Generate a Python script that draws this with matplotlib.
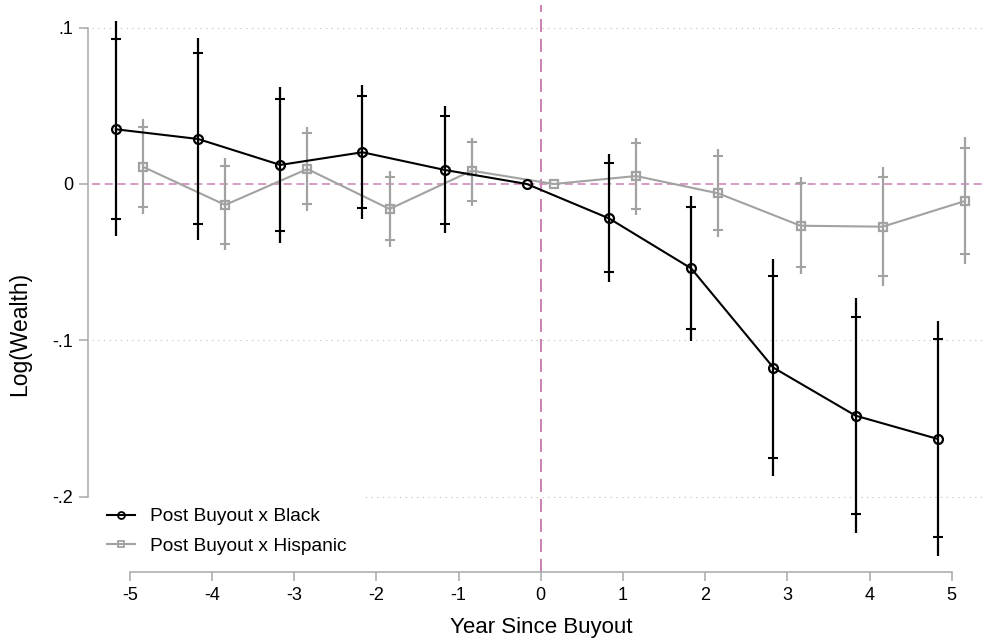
import numpy as np
import matplotlib
matplotlib.use("Agg")
import matplotlib.pyplot as plt
from matplotlib.lines import Line2D

plt.rcParams['font.family'] = ['Liberation Sans', 'DejaVu Sans']
plt.rcParams['lines.scale_dashes'] = False

# ---------------- data ----------------
years = [-5, -4, -3, -2, -1, 0, 1, 2, 3, 4, 5]
nan = np.nan

black_coef = [0.035, 0.0288, 0.0122, 0.0203, 0.009, 0.0, -0.022, -0.054, -0.1175, -0.1482, -0.1631]
black_lo95 = [-0.033, -0.0358, -0.038, -0.0224, -0.0316, nan, -0.0625, -0.1003, -0.1866, -0.2235, -0.238]
black_hi95 = [0.104, 0.0936, 0.0623, 0.0633, 0.050, nan, 0.0192, -0.0075, -0.0482, -0.0732, -0.0875]
black_lo90 = [-0.0225, -0.0256, -0.030, -0.0156, -0.0256, nan, -0.0565, -0.093, -0.1755, -0.2113, -0.226]
black_hi90 = [0.093, 0.0836, 0.0544, 0.0565, 0.0437, nan, 0.0132, -0.0145, -0.0589, -0.0849, -0.0994]

hisp_coef = [0.011, -0.0134, 0.0096, -0.016, 0.0085, 0.0, 0.0051, -0.006, -0.0267, -0.0273, -0.0109]
hisp_lo95 = [-0.0193, -0.042, -0.0173, -0.040, -0.0139, nan, -0.0198, -0.0337, -0.0576, -0.065, -0.0514]
hisp_hi95 = [0.0416, 0.0164, 0.0367, 0.0083, 0.0296, nan, 0.0296, 0.0222, 0.0047, 0.0107, 0.0299]
hisp_lo90 = [-0.0145, -0.0386, -0.0128, -0.036, -0.0107, nan, -0.016, -0.0294, -0.0529, -0.0589, -0.045]
hisp_hi90 = [0.0367, 0.0117, 0.0328, 0.0045, 0.027, nan, 0.0264, 0.0181, 0.0008, 0.0047, 0.0232]

ytick_vals = [0.1, 0.0, -0.1, -0.2]
ytick_labels = ['.1', '0', '-.1', '-.2']
xtick_vals = [-5, -4, -3, -2, -1, 0, 1, 2, 3, 4, 5]
xtick_labels = ['-5', '-4', '-3', '-2', '-1', '0', '1', '2', '3', '4', '5']
series_labels = ['Post Buyout x Black', 'Post Buyout x Hispanic']
xlabel = 'Year Since Buyout'
ylabel = 'Log(Wealth)'

# ---------------- style ----------------
BLACK = '#000000'
GRAY = '#a2a2a2'
PINK = '#cc80b4'
AXGRAY = '#a8a8a8'
GRID = '#c4c4c4'
off_black, off_hisp = -0.17, 0.16

W, H = 984, 644
fig = plt.figure(figsize=(W / 100, H / 100), dpi=100)
L, R, T, B = 92, 983, 5, 572
ax = fig.add_axes([L / W, 1 - B / H, (R - L) / W, (B - T) / H])

ax.set_xlim(-5.46, 5.38)
ax.set_ylim(-0.2482, 0.1145)

# grid lines (dotted)
for v in ytick_vals:
    if v != 0:
        ax.axhline(v, color=GRID, lw=0.8, linestyle=(0, (0.9, 3.2)), zorder=0)

# reference lines
ax.axhline(0, color=PINK, lw=1.1, linestyle=(0, (5.8, 3.4)), zorder=1)
ax.axvline(0, color=PINK, lw=1.4, linestyle=(0, (9.4, 5.0)), zorder=1)

def draw(coef, lo95, hi95, lo90, hi90, off, color, marker, z):
    x = np.array(years, dtype=float) + off
    lo95 = np.array(lo95); hi95 = np.array(hi95)
    m = ~np.isnan(lo95)
    ax.vlines(x[m], lo95[m], hi95[m], color=color, lw=1.6, zorder=z)
    ax.plot(x[m], np.array(lo90)[m], linestyle='none', marker='_', ms=7, mew=1.5, color=color, zorder=z)
    ax.plot(x[m], np.array(hi90)[m], linestyle='none', marker='_', ms=7, mew=1.5, color=color, zorder=z)
    ax.plot(x, coef, color=color, lw=1.5, marker=marker, ms=6.4, mew=1.6,
            mfc='none', mec=color, zorder=z + 0.5)

draw(hisp_coef, hisp_lo95, hisp_hi95, hisp_lo90, hisp_hi90, off_hisp, GRAY, 's', 3)
draw(black_coef, black_lo95, black_hi95, black_lo90, black_hi90, off_black, BLACK, 'o', 4)

# axes styling
for s in ['top', 'right']:
    ax.spines[s].set_visible(False)
ax.spines['left'].set_position(('outward', 3))
ax.spines['left'].set_bounds(-0.2, 0.1)
ax.spines['bottom'].set_bounds(-5, 5)
for s in ['left', 'bottom']:
    ax.spines[s].set_color(AXGRAY)
    ax.spines[s].set_linewidth(1.1)

ax.set_yticks(ytick_vals)
ax.set_yticklabels(ytick_labels)
ax.set_xticks(xtick_vals)
ax.set_xticklabels(xtick_labels)
ax.tick_params(axis='both', colors=AXGRAY, labelcolor='black', length=6.5, width=1.1,
               labelsize=13)
ax.tick_params(axis='y', pad=4)
ax.tick_params(axis='x', pad=4)

ax.set_xlabel(xlabel, fontsize=16)
ax.set_ylabel(ylabel, fontsize=16.5)
ax.xaxis.set_label_coords((541 - L) / (R - L), -(628 - B) / (B - T))
ax.xaxis.label.set_va('center')
ax.yaxis.set_label_coords((20 - L) / (R - L), 1 - (334 - T) / (B - T))
ax.yaxis.label.set_va('center')

handles = [
    Line2D([], [], color=BLACK, lw=1.5, marker='o', ms=5, mew=1.3, mfc='none'),
    Line2D([], [], color=GRAY, lw=1.5, marker='s', ms=5, mew=1.3, mfc='none'),
]
leg = ax.legend(handles, series_labels, loc='upper left',
                bbox_to_anchor=(92 / W, 1 - 493 / H), bbox_transform=fig.transFigure,
                fontsize=13.8, handlelength=1.45, handletextpad=0.8, labelspacing=0.64,
                borderpad=0.78, frameon=True, fancybox=False, framealpha=1,
                facecolor='white', edgecolor='none', borderaxespad=0)
leg.set_zorder(5)

fig.savefig('out.png', dpi=100)
